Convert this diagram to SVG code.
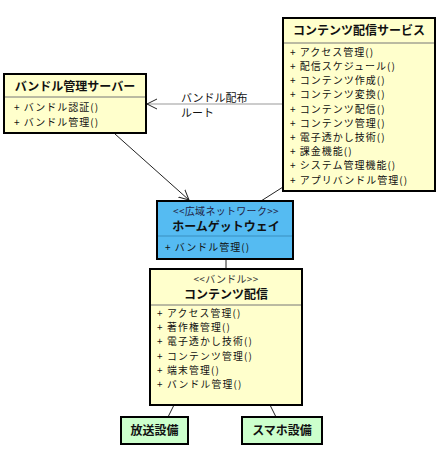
<svg xmlns="http://www.w3.org/2000/svg" width="439" height="451" viewBox="0 0 439 451">
<style>
.box{stroke:#000;stroke-width:2}
.y{fill:#ffffcc}
.b{fill:#55bbf2}
.g{fill:#ccffcc}
.sep{stroke:#777;stroke-width:1}
text{font-family:"Noto Sans CJK JP","Noto Sans",sans-serif;fill:#111}
.t{font-size:12px;font-weight:bold;text-anchor:middle}
.st{font-size:10px;text-anchor:middle;fill:#333;letter-spacing:0.3px}
.i{font-size:10px;letter-spacing:1px}
.i2{font-size:9.8px;letter-spacing:1.2px}
.lbl{font-size:11px}
.ln{stroke:#222;stroke-width:1;fill:none}
</style>
<defs>
<marker id="open" markerWidth="12" markerHeight="12" refX="10" refY="6" orient="auto" markerUnits="userSpaceOnUse">
<path d="M0,1 L10,6 L0,11" fill="none" stroke="#222" stroke-width="1"/>
</marker>
</defs>
<g id="connectors">
<line class="ln" x1="282" y1="104" x2="147" y2="104" style="stroke:#999" marker-end="url(#open)"/>
<line class="ln" x1="115" y1="134" x2="189" y2="200" marker-end="url(#open)"/>
<line class="ln" x1="283" y1="187" x2="261" y2="201"/>
<line class="ln" x1="226" y1="259" x2="226" y2="269"/>
<line class="ln" x1="174" y1="405" x2="168" y2="417"/>
<line class="ln" x1="270" y1="405" x2="276" y2="417"/>
<text class="lbl" x="181" y="102">バンドル配布</text>
<text class="lbl" x="181" y="117">ルート</text>
</g>
<g id="content-service">
<rect class="box y" x="283" y="18" width="152" height="173"/>
<line class="sep" x1="284" y1="43" x2="434" y2="43"/>
<text class="t" x="359" y="35">コンテンツ配信サービス</text>
<text class="i" x="290" y="56">+ アクセス管理()</text>
<text class="i" x="290" y="70">+ 配信スケジュール()</text>
<text class="i" x="290" y="84">+ コンテンツ作成()</text>
<text class="i" x="290" y="98">+ コンテンツ変換()</text>
<text class="i" x="290" y="113">+ コンテンツ配信()</text>
<text class="i" x="290" y="127">+ コンテンツ管理()</text>
<text class="i" x="290" y="141">+ 電子透かし技術()</text>
<text class="i" x="290" y="155">+ 課金機能()</text>
<text class="i" x="290" y="169">+ システム管理機能()</text>
<text class="i" x="290" y="184">+ アプリバンドル管理()</text>
</g>
<g id="bundle-server">
<rect class="box y" x="4" y="74" width="142" height="59"/>
<line class="sep" x1="5" y1="97" x2="145" y2="97"/>
<text class="t" x="75" y="91">バンドル管理サーバー</text>
<text class="i" x="14" y="111">+ バンドル認証()</text>
<text class="i" x="14" y="126">+ バンドル管理()</text>
</g>
<g id="gateway">
<rect class="box b" x="157" y="201" width="136" height="58"/>
<line class="sep" x1="158" y1="236" x2="292" y2="236" style="stroke:#3a8fc0"/>
<text class="st" x="226" y="214.5" style="fill:#224">&lt;&lt;広域ネットワーク&gt;&gt;</text>
<text class="t" x="226" y="231">ホームゲットウェイ</text>
<text class="i" x="165" y="251">+ バンドル管理()</text>
</g>
<g id="bundle">
<rect class="box y" x="150" y="269" width="152" height="136"/>
<line class="sep" x1="151" y1="305" x2="301" y2="305"/>
<text class="st" x="226" y="282.5">&lt;&lt;バンドル&gt;&gt;</text>
<text class="t" x="226" y="299">コンテンツ配信</text>
<text class="i2" x="157" y="317">+ アクセス管理()</text>
<text class="i2" x="157" y="331.2">+ 著作権管理()</text>
<text class="i2" x="157" y="345.4">+ 電子透かし技術()</text>
<text class="i2" x="157" y="359.6">+ コンテンツ管理()</text>
<text class="i2" x="157" y="373.8">+ 端末管理()</text>
<text class="i2" x="157" y="388">+ バンドル管理()</text>
</g>
<g id="broadcast">
<rect class="box g" x="121" y="417" width="67" height="27"/>
<text class="t" x="154.5" y="435">放送設備</text>
</g>
<g id="smartphone">
<rect class="box g" x="242" y="417" width="80" height="27"/>
<text class="t" x="282" y="435">スマホ設備</text>
</g>
</svg>
